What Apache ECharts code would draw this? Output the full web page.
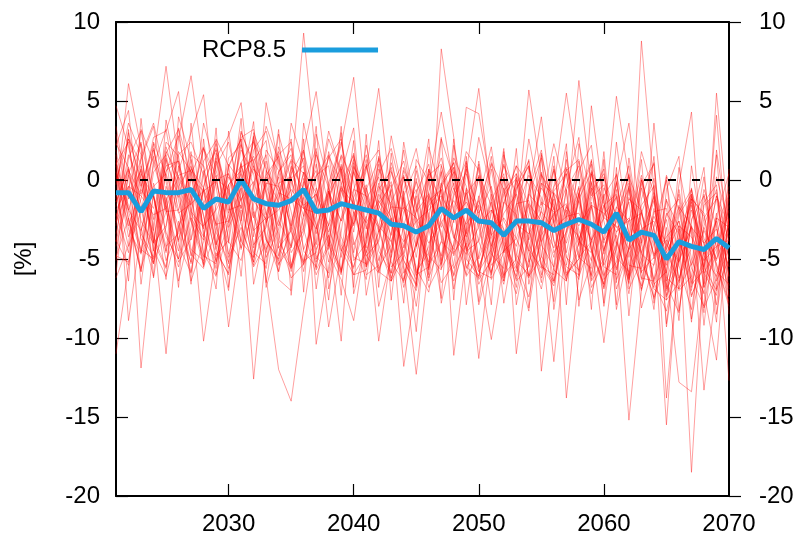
<!DOCTYPE html>
<html>
<head>
<meta charset="utf-8">
<title>RCP8.5</title>
<script src="https://cdn.jsdelivr.net/npm/echarts@6/dist/echarts.min.js"></script>
<style>
    html, body { margin: 0; padding: 0; background: #fff; }
    #mainChart { width: 795px; height: 533px; }
</style>
</head>
<body>
<div id="mainChart"></div>
<script>
var years = [2021, 2022, 2023, 2024, 2025, 2026, 2027, 2028, 2029, 2030,
    2031, 2032, 2033, 2034, 2035, 2036, 2037, 2038, 2039, 2040,
    2041, 2042, 2043, 2044, 2045, 2046, 2047, 2048, 2049, 2050,
    2051, 2052, 2053, 2054, 2055, 2056, 2057, 2058, 2059, 2060,
    2061, 2062, 2063, 2064, 2065, 2066, 2067, 2068, 2069, 2070];

var xTickValues = [2030, 2040, 2050, 2060];
var xLabelValues = [2030, 2040, 2050, 2060, 2070];

// ensemble mean
var rcp85 = [-0.8, -0.8, -2.0, -0.7, -0.8, -0.8, -0.6, -1.8, -1.2, -1.4,
    0.0, -1.2, -1.5, -1.6, -1.3, -0.6, -2.0, -1.9, -1.5, -1.7,
    -1.9, -2.1, -2.8, -2.9, -3.3, -2.9, -1.8, -2.4, -1.9, -2.6,
    -2.7, -3.5, -2.6, -2.6, -2.7, -3.2, -2.8, -2.5, -2.8, -3.3,
    -2.1, -3.8, -3.3, -3.5, -5.0, -3.9, -4.2, -4.4, -3.7, -4.3];

// ensemble members
var r01 = [4.7, 2.1, -1.5, -5.2, -3.0, 1.6, 2.4, 0.3, -4.1, -2.2, 1.9, 0.4, -3.8, -5.0, 0.2, 9.3, 1.1, -3.6, -5.9, -2.4, 0.8, 1.9, -2.6, -6.3, -4.1, -0.7, 1.4, -1.8, -5.5, -6.2, -2.1, 0.9, -0.8, -4.6, -6.9, -3.0, 0.6, 1.3, -3.7, -6.1, -4.4, 0.2, -1.9, -6.5, -8.3, -4.7, -1.1, -2.3, -6.9, -5.0];
var r02 = [-1.2, 6.1, 2.0, -3.9, -5.6, -0.4, 0.9, -2.2, -6.0, -3.1, 2.7, 3.2, -0.6, -4.3, -3.2, 1.8, -1.4, -5.2, -0.3, 1.6, -2.9, -5.8, -6.4, -1.0, 0.9, -2.7, -4.8, -1.9, 1.8, 0.6, -4.5, -6.6, -2.0, 0.3, -1.1, -5.7, -6.4, -0.8, 1.2, -2.4, 5.3, 0.1, -5.3, -6.8, -2.1, -3.4, -7.4, -4.9, 0.2, -2.8];
var r03 = [-4.9, -2.4, -5.8, 1.3, 7.2, 1.0, -4.4, -5.1, -1.6, 0.4, -2.8, -5.5, -4.0, 1.6, 2.4, -1.8, -0.9, -4.7, -6.3, -8.9, -3.5, 0.4, 2.0, -1.3, -5.9, -4.2, -0.5, 1.1, -3.1, -6.6, -5.0, -1.4, 0.9, -0.3, -5.3, -6.5, -3.2, 0.6, 2.2, -4.4, -1.7, -2.6, -6.9, -4.0, 0.3, -1.9, -6.2, -8.0, -3.6, -0.4];
var r04 = [0.6, -3.6, -1.2, 2.7, 3.1, 5.6, -1.7, -10.2, -4.6, -5.9, -0.9, 2.4, 0.7, -3.4, -6.2, -5.3, -1.0, 1.4, 2.6, -2.1, -4.8, -3.9, 0.5, -1.4, -5.6, -7.1, -2.3, -0.2, -4.4, -3.0, 1.1, -0.6, -5.3, -7.4, -3.5, -2.2, 0.7, -1.5, -6.8, -5.2, -0.6, -6.3, -4.1, -1.3, -6.6, -8.4, -2.5, -1.0, -5.4, -7.7];
var r05 = [-3.8, -5.4, 0.4, -1.1, -4.5, 2.6, 6.6, 0.9, -3.3, -5.2, 0.8, 1.3, -3.6, -5.8, -2.7, 0.5, -4.4, -2.8, 1.6, -0.1, -5.4, -3.3, -0.6, -5.6, -7.0, -3.2, 0.9, -2.0, -6.1, -4.8, -0.9, -3.6, -6.8, -1.0, 1.4, -3.9, -5.5, -6.0, -0.7, 0.4, -3.8, -6.5, -1.6, -0.4, -5.8, -12.8, -13.4, -6.3, -2.1, -4.9];
var r06 = [2.3, 0.8, -3.4, -4.9, -1.3, 0.6, 3.0, 5.4, -2.2, -9.3, -3.6, 1.9, 3.1, -0.4, -4.3, -1.1, -5.6, -0.8, 1.5, -3.9, -6.3, -0.9, -2.4, -6.8, -4.0, 0.7, -1.5, -4.6, -3.4, 0.2, -4.0, -6.4, -2.6, -4.5, 0.3, -0.9, -4.9, -5.7, -1.4, -6.9, -1.8, 0.9, -4.6, -7.5, -5.1, -1.7, -2.9, -8.1, -6.2, -1.6];
var r07 = [-2.7, -0.4, -4.6, 2.4, 0.3, -3.8, -0.9, -5.3, 1.4, 2.8, 4.9, -2.3, -4.6, -1.1, 1.2, -3.1, -6.0, -4.2, 0.7, -1.6, 1.3, -4.5, -5.9, -2.0, -0.6, -4.8, -5.7, 0.6, -1.1, -5.5, -3.5, 0.2, -4.7, -6.2, -2.8, -0.4, 0.8, -3.6, -7.2, -4.4, -2.2, -6.1, -0.5, -3.6, -7.3, -3.1, -18.5, -5.2, -1.0, -3.9];
var r08 = [-5.1, 1.4, 3.1, -1.0, -4.2, -3.4, 1.3, -2.3, -5.6, 0.9, 2.6, -3.6, 4.9, 1.0, -3.3, -5.4, -0.5, -2.9, -5.8, 0.8, -0.6, -5.8, -3.4, 0.8, -1.5, -6.2, -3.9, -4.7, 0.4, -1.9, -6.3, -4.6, -0.3, 1.2, -4.8, -6.4, -1.9, -4.1, -0.2, -4.0, 0.4, -3.3, -5.8, -4.9, -1.2, -6.4, -3.0, -13.3, -6.7, -0.9];
var r09 = [0.4, -1.9, 0.7, -4.4, -6.1, -2.9, -1.3, 2.0, -0.4, -5.3, -1.9, -12.6, -4.4, -2.6, 0.4, 1.9, 5.6, -0.7, -4.4, -6.0, -4.6, -1.5, -0.3, -5.1, -6.7, -1.3, -0.6, -5.6, -4.0, 0.3, -1.6, -5.0, -7.2, -3.4, -0.5, -1.8, -6.0, -5.0, 0.6, -1.3, -6.3, -4.4, 0.0, -5.0, -2.5, -7.0, -6.1, -0.9, -4.2, -7.8];
var r10 = [-2.9, 3.0, -0.3, -3.6, -5.5, 0.9, -2.6, -4.9, 1.2, -1.6, -4.3, -2.0, -6.2, -12.0, -14.0, -8.2, -3.0, -0.5, 2.2, 6.5, -1.4, -4.1, -6.4, -2.9, -0.1, -2.2, -5.6, -4.1, 0.9, -3.0, -6.0, -1.4, -2.2, -6.1, -4.9, 0.7, -2.6, -3.6, -6.1, -2.2, -1.1, -6.9, -5.1, -0.8, -4.5, -6.5, -1.9, -4.0, -7.9, -2.5];
var r11 = [1.3, -2.4, -5.6, -2.8, 1.8, 0.2, -4.8, -0.4, 2.0, -1.9, -1.6, -5.2, 0.6, -0.7, -4.6, -3.2, 1.8, -1.6, -4.5, -2.7, 0.6, 5.8, -1.3, -4.7, -6.3, -1.0, -3.3, -6.0, -0.5, -2.1, -0.4, -4.1, -5.8, -0.9, -1.8, -6.4, -2.4, 1.2, -2.8, -6.3, -5.2, -1.1, -2.9, -6.3, -4.1, -0.9, -5.6, -7.1, -11.4, -2.0];
var r12 = [-1.4, 0.8, -3.7, -5.3, -0.4, -3.0, -5.2, 0.4, 1.9, -3.9, -5.1, -1.5, 1.2, -2.6, -4.2, 2.6, -10.4, -5.5, -1.2, 1.3, -3.7, -0.2, -6.4, -4.8, -1.0, -6.0, 8.3, 2.7, -4.2, -5.8, -4.4, -0.7, 0.4, -4.0, -6.2, -2.4, 0.4, -3.9, -4.6, -1.0, 0.3, -6.0, -3.5, -1.1, -7.4, -5.3, -0.6, -3.7, -5.3, -8.0];
var r13 = [-0.9, -4.2, -2.0, 1.9, -1.2, -5.2, -3.7, 0.6, -2.9, 1.4, 2.2, -0.4, -4.9, -3.1, 0.8, -1.8, -2.1, -9.3, -4.6, 0.5, -1.8, -3.0, -5.9, -1.1, -4.9, -0.2, 4.3, -0.4, -5.0, -6.1, -1.9, -3.1, -6.4, -5.5, -0.2, -0.9, -5.4, -1.2, 0.5, -5.4, -3.5, -7.2, -2.1, 0.1, -4.4, -1.6, -6.5, -2.4, -1.2, -6.1];
var r14 = [-3.9, -0.6, 2.3, -1.0, -5.1, -3.2, 1.6, 0.9, -4.4, -6.0, 0.1, 1.5, -0.8, -4.8, -0.3, 1.4, -5.0, -3.5, -10.2, -0.6, 1.6, -2.0, -4.6, 0.2, -3.6, -6.8, -5.2, -1.0, 0.5, 5.8, -1.2, -6.0, -5.0, 0.8, -2.4, -4.9, -0.6, -6.1, -3.9, 0.2, -2.3, -0.5, -6.2, -6.4, -1.3, -3.0, -7.3, -5.4, -1.0, -2.9];
var r15 = [2.9, -2.0, -4.6, -0.2, -3.3, -5.5, -2.0, 1.2, 2.5, -2.7, -0.5, -4.6, -5.3, 0.5, 2.0, -1.5, -5.2, -1.2, 0.9, -4.9, -5.3, -0.6, 0.6, -3.2, -6.1, -3.0, 0.5, -2.7, 4.6, 4.2, -0.6, -4.2, -6.1, -2.2, 0.5, -3.8, -6.3, -4.0, 0.4, -2.6, -5.7, -2.6, 0.3, -3.9, -7.6, -6.5, -1.6, -4.7, -2.6, -12.7];
var r16 = [-4.2, -1.0, 1.3, 3.4, -1.9, -5.0, -2.4, -3.8, 1.7, -0.8, -3.9, -4.9, 1.9, 0.6, -3.2, -5.2, -1.6, 2.6, 0.4, -4.1, -2.3, -10.2, -4.6, 0.6, -1.6, -5.4, -3.9, 1.4, -0.4, -5.8, -6.2, 0.1, -2.6, 5.7, 0.2, -4.6, -3.3, -0.9, -6.4, -5.0, -0.2, -4.5, -6.7, -1.8, -5.4, -2.0, -0.6, -6.8, -4.6, -0.7];
var r17 = [1.0, 2.4, -2.6, -4.0, 0.5, 2.8, -1.1, -5.5, -3.2, 0.2, -1.3, 0.9, -2.6, -5.4, -3.1, -0.3, 2.0, -3.9, -5.7, -2.2, -0.3, -5.1, -2.4, -11.8, -6.5, 0.3, 1.0, -3.4, -6.0, -1.6, 1.0, -2.6, -4.2, -0.8, 4.0, -2.7, -6.1, -4.5, -0.1, -3.8, -2.7, 0.4, -5.0, -7.4, -4.2, -2.6, -6.8, -2.9, -0.6, -6.3];
var r18 = [-2.1, -4.6, 1.5, 3.6, -0.1, -3.9, 0.8, -1.4, -4.8, -3.8, 3.1, 0.8, -2.2, 0.2, -5.4, -2.9, 1.6, -0.5, -5.8, -2.0, -4.3, 0.7, -1.0, -5.4, -12.3, -5.3, -0.3, 0.8, -4.5, -3.9, -5.9, -1.5, 0.9, -3.2, -6.0, -0.5, 5.5, 0.1, -4.4, -6.8, -3.3, -1.4, -6.3, -3.0, 0.0, -5.4, -8.2, -3.0, -5.1, -0.9];
var r19 = [0.9, -3.1, -4.7, 0.5, 1.6, -1.9, -5.3, -0.5, -4.1, 1.0, -0.2, -4.9, 0.3, 1.5, -2.8, -5.3, -3.9, 1.8, -1.6, -6.0, -5.7, -1.3, 0.8, -2.9, -9.6, -0.8, -3.5, -6.1, -3.2, 0.8, -3.6, -6.4, 0.4, -1.6, -5.4, -6.7, -2.4, 6.3, -0.5, -5.5, -6.0, -1.2, -1.9, -6.6, -5.8, -0.6, -5.0, -7.2, -2.4, -6.7];
var r20 = [-0.1, 2.6, 1.0, -4.0, -2.9, 1.8, 0.5, -4.8, -5.3, -0.3, 0.6, -4.1, -3.0, 2.1, -0.8, -5.1, -4.6, -0.2, 2.4, -1.4, -5.5, -3.8, 1.1, -1.7, -5.8, -4.6, 0.6, -11.1, -4.8, -1.0, -5.8, -3.6, 0.0, -4.4, -5.6, -0.8, -2.1, -5.8, 4.7, -1.3, -6.9, -4.3, 0.1, -3.1, -7.0, -5.1, -0.9, -5.9, -7.3, -2.4];
var r21 = [-3.4, 0.3, -1.8, -5.3, 0.6, 1.2, -2.5, -5.4, 0.9, 2.4, -1.2, -5.4, -2.6, 0.5, 1.6, -4.5, -5.5, -1.0, 0.8, -4.6, -0.6, 1.3, -3.9, -6.5, -0.8, 1.0, -3.7, -6.4, -4.0, -11.3, -4.2, -0.5, -5.1, -6.0, -1.8, 0.6, -4.6, -0.8, -6.3, -3.6, -0.2, 3.6, -2.9, -6.9, -7.6, -2.2, -0.9, -4.8, -6.1, -3.1];
var r22 = [1.9, -2.6, -5.8, -1.0, -4.6, 0.2, -1.6, 2.0, 0.3, -4.7, -1.6, 2.7, -0.9, -5.3, -4.2, -0.1, -2.9, -6.2, -2.4, 1.1, -4.8, -5.9, -1.4, 0.3, -4.2, -1.1, -5.4, -0.8, 1.2, -5.4, -10.1, -5.2, -0.6, 0.9, -4.1, -5.5, 1.3, -3.2, -5.1, -0.5, -2.2, -6.6, 8.8, -0.6, -6.2, -6.9, -1.2, -2.1, -6.4, -4.3];
var r23 = [-1.7, 2.6, 0.1, -3.9, 1.4, -4.1, -5.9, -0.5, 2.3, -1.5, 0.4, -3.1, -5.6, -0.7, 1.3, 0.4, -4.8, -5.9, -0.6, -2.9, 1.0, -3.1, -6.2, -4.1, 0.1, -5.7, -1.2, 0.5, -4.4, -6.1, -1.3, 0.4, -11.0, -4.9, -0.2, -2.8, -6.4, -0.9, 1.0, -6.0, -4.1, -0.4, -5.9, 3.6, -3.9, -6.9, -5.3, -0.6, -2.9, -7.4];
var r24 = [-4.8, -5.2, 0.9, -2.5, 2.4, 1.5, -3.8, -0.6, -4.4, 0.8, 2.6, -4.3, -0.3, 1.8, -5.6, -3.4, 0.2, 1.6, -3.6, -5.5, -2.4, 1.0, -4.9, -0.7, -6.0, -5.5, -0.2, -3.6, -4.7, 1.2, -3.3, -6.2, -1.6, 1.3, -12.1, -5.5, -1.6, -4.9, -5.6, -0.9, -4.9, -5.8, 0.0, -3.1, -5.9, -0.3, 4.3, -6.6, -3.8, -6.9];
var r25 = [0.5, -1.6, -4.4, -5.0, 1.3, -1.1, 1.8, -3.4, -5.1, -0.9, 3.0, 1.1, -3.8, -5.1, -1.0, 1.9, -4.1, -0.7, -4.9, -1.1, 0.9, -2.0, -5.2, -6.4, -1.9, 0.4, -5.3, -2.5, 0.7, -5.0, -2.8, -6.1, -0.5, 0.9, -3.6, -11.5, -3.5, -0.5, -6.0, -1.6, -0.9, -6.2, -3.8, -1.0, -6.9, -4.3, -1.4, -6.8, 5.5, -3.1];
var r26 = [-2.6, 1.6, -0.4, 2.3, -3.6, -5.0, 0.1, -0.7, -5.2, -2.7, 2.3, -1.9, -4.4, -0.2, 0.2, -4.4, -2.3, 1.5, -0.1, -5.1, -4.0, 1.5, -1.8, -5.9, -4.3, 0.7, -2.7, -4.4, -0.6, -5.6, -3.0, 1.0, -2.3, -6.1, -4.0, -1.2, -13.8, -6.0, 0.4, -1.5, -5.6, -0.6, -4.7, -5.4, -2.2, -1.2, -6.6, -5.7, 4.1, -5.5];
var r27 = [-11.0, -5.5, -0.4, 2.0, -1.6, -4.5, 0.4, 2.1, -2.9, -5.6, -2.5, 1.2, 2.5, -4.3, -5.6, -0.9, 0.6, -4.4, -0.8, 1.7, -4.6, -1.8, -0.1, -5.1, -6.6, 0.6, -1.6, -4.8, -2.6, 1.0, -4.7, -5.6, 0.2, -2.9, -6.5, -0.7, 0.4, -4.9, -3.9, -10.3, -3.9, -6.3, -0.3, 1.0, -6.4, -3.7, -7.0, -1.6, -0.8, -6.1];
var r28 = [1.6, -8.9, -3.3, 0.9, 3.2, -1.3, -4.7, -5.6, 0.1, -0.6, -4.4, -0.2, 1.6, -3.8, -5.5, -2.2, 1.0, -4.1, -6.0, 0.9, -0.9, -5.6, -4.1, 0.2, -2.3, -6.4, -0.2, 1.1, -3.6, -6.3, -5.1, -0.9, 0.1, -5.2, -3.4, 0.9, -4.9, -6.3, -1.1, -0.3, -4.1, -15.2, -7.0, -2.0, -1.8, -6.2, -4.3, 0.2, -5.8, -6.6];
var r29 = [-1.4, 0.7, -11.9, -4.1, 1.7, 3.2, -2.0, -3.0, 1.4, -4.0, 1.1, 2.5, -2.1, -5.8, 0.9, -0.6, -5.7, -4.0, 1.0, -1.2, -6.0, -5.4, -0.5, 1.2, -2.6, -5.6, -1.5, 0.8, -5.6, -3.7, 0.7, -3.9, -5.6, -1.6, -5.5, -6.0, -0.6, 0.9, -4.4, -6.6, -2.4, -3.8, -7.0, -3.5, -15.5, -4.3, -0.5, -5.5, -7.0, -1.2];
var r30 = [-0.3, 3.6, 1.6, -3.2, -11.0, -2.6, -5.8, -1.5, 0.3, -4.9, -3.0, -5.2, 0.2, -1.4, -5.8, -2.4, 0.3, 0.9, -4.1, -5.6, -1.2, 0.2, -5.5, -4.6, 0.6, -3.1, -6.5, -5.3, -0.9, 0.2, -5.4, -4.5, -3.7, -5.5, 0.4, -1.6, -5.9, -5.0, -0.5, -4.7, -0.1, -5.4, -5.6, -0.3, -13.8, -4.6, -1.2, -5.9, -4.3, -1.9];
var r31 = [0.3, -2.9, -0.6, -1.8, 0.9, 1.2, -2.1, -3.6, 0.0, 0.4, -1.8, 0.7, -0.3, -2.9, 0.1, 0.9, -3.4, -0.8, -2.6, 0.6, -3.1, -0.4, -1.5, -4.3, -2.0, -0.9, -3.0, -0.5, -3.6, -1.3, -4.2, -2.1, -0.9, -3.8, -1.4, -2.0, -4.0, -1.3, -3.9, -1.6, -3.3, -2.4, -4.6, -2.3, -4.1, -5.2, -2.9, -5.5, -2.4, -3.0];
var r32 = [-2.3, 0.6, -0.9, 1.5, -2.0, -1.9, 0.7, -0.5, -2.8, -2.6, 1.1, -2.4, -0.2, -0.4, -2.9, 0.5, -0.8, -3.3, -0.4, -2.8, -0.5, -3.3, -1.7, -1.8, -4.2, -1.6, -0.6, -3.7, -0.8, -3.9, -1.4, -4.6, -1.5, -1.3, -3.9, -2.1, -1.5, -3.8, -1.7, -4.5, -1.0, -4.9, -2.0, -4.7, -3.6, -2.6, -5.4, -3.2, -5.0, -2.9];
var r33 = [1.1, -1.9, -3.2, -0.4, 0.4, -2.1, -1.5, -0.7, -0.1, -3.0, -1.2, -0.1, -2.7, -0.8, -1.2, -1.8, -3.1, -0.7, -2.6, -0.6, -1.0, -2.9, -3.9, -1.7, -2.4, -4.0, -2.7, -1.3, -2.8, -1.6, -3.5, -2.4, -3.7, -1.5, -2.6, -4.3, -1.7, -2.9, -1.6, -2.1, -3.0, -2.6, -2.1, -4.8, -3.8, -5.1, -3.0, -4.0, -3.1, -5.5];
var r34 = [-1.9, -0.4, -1.0, -2.2, -1.8, 0.3, 0.6, -2.9, -1.9, -0.3, 0.9, -1.3, -2.5, -1.9, -0.6, -1.6, -0.9, -2.9, -0.5, -1.5, -2.7, -1.3, -2.6, -3.9, -2.6, -1.9, -1.0, -2.4, -1.4, -2.8, -1.9, -3.5, -2.8, -3.4, -2.0, -3.1, -2.3, -2.1, -3.8, -2.4, -2.9, -4.4, -3.1, -2.6, -4.6, -2.9, -3.6, -5.1, -4.2, -3.8];
var r35 = [3.4, -1.2, 0.6, -4.5, -2.0, 3.3, 0.2, -3.1, 2.6, 0.9, -3.9, -0.5, 3.4, 1.2, -2.0, -5.8, -1.5, 3.1, 0.5, -3.3, 2.2, -1.6, -3.5, 1.9, -2.9, -5.2, 2.6, 0.1, -3.4, -1.2, 2.1, -3.4, -6.3, -0.6, 1.9, -2.7, -0.4, 2.7, -4.6, -6.6, 2.4, -3.6, 1.8, -0.9, -6.8, 0.8, -3.4, -8.4, 1.9, -3.6];
var r36 = [-6.2, -4.1, 3.2, 1.1, -1.8, -6.4, -3.0, 3.6, 0.6, -2.1, 3.9, -6.6, -2.8, 2.9, 0.0, -2.3, 3.4, -6.9, -3.3, 2.5, -7.3, -3.1, 2.8, -1.1, -6.8, 2.1, -0.9, -6.9, -3.0, 2.7, -0.7, -7.8, -3.2, 2.6, -1.6, 2.3, -0.8, -7.6, -5.2, 1.8, -6.5, 1.4, -3.9, -8.2, -0.6, 1.5, -8.8, -4.5, 1.6, -7.4];
var r37 = [2.2, 4.4, -3.0, -6.1, 3.8, -0.2, -6.4, -3.9, 3.3, -6.8, -0.4, 3.7, -6.8, -4.0, 3.6, 1.0, -6.9, -1.6, 3.0, -7.2, -3.9, 2.5, -7.6, -0.6, 2.0, -2.4, -7.5, 2.2, -1.7, -7.9, -4.8, 1.6, -1.3, -8.1, -3.3, 1.5, -7.9, 2.3, -1.0, 0.7, -8.2, -4.4, 1.3, -7.8, -3.0, -8.9, 0.9, -4.1, -9.0, 0.7];
var r38 = [-5.9, 0.4, 2.4, -6.2, -1.1, -6.8, 3.6, -3.5, -6.9, 3.1, -2.6, 2.8, -6.5, -1.3, 2.6, -7.1, 2.9, -0.2, -7.3, 1.5, -1.1, -8.0, -5.0, 2.4, -2.0, 2.6, -7.8, -4.0, 1.1, -2.4, -7.9, 1.8, -5.4, -8.3, 1.6, -1.9, 2.3, -8.0, -1.6, -7.8, 0.8, -8.6, -1.2, 1.1, -9.3, -3.6, -1.0, -9.2, -2.3, 0.4];
var r39 = [0.2, -6.4, 3.9, -3.2, 2.1, -0.6, -6.6, 2.6, -3.8, -7.0, 1.0, -3.2, -2.4, 3.2, -7.3, 0.1, -2.8, -7.6, 0.4, 3.3, -5.5, 1.4, -1.9, -7.8, 1.3, -0.1, -5.1, 2.6, -7.9, -2.2, 1.5, -4.6, 2.0, -6.6, -2.9, -7.7, 1.8, -4.2, 1.3, -8.0, -2.3, 0.3, -8.1, -5.3, 0.2, -8.3, -2.6, 0.8, -8.5, -3.5];
var r40 = [-3.9, 3.2, -6.6, -0.8, -6.3, 4.0, 1.3, -4.6, -6.1, -0.3, -6.1, 3.0, 0.8, -6.3, -7.0, 3.6, -0.4, -4.2, 3.4, -6.8, 2.9, -6.8, 1.7, -3.7, -8.0, -2.4, 2.7, -7.6, 1.5, -7.7, -2.9, 2.0, -7.9, -3.6, 1.7, -8.2, -3.2, -0.4, -8.2, 1.3, -7.9, -0.2, -4.0, 1.5, -9.1, -2.9, -9.0, -1.4, -0.3, -8.5];

var runs = [r01, r02, r03, r04, r05, r06, r07, r08, r09, r10,
    r11, r12, r13, r14, r15, r16, r17, r18, r19, r20,
    r21, r22, r23, r24, r25, r26, r27, r28, r29, r30,
    r31, r32, r33, r34, r35, r36, r37, r38, r39, r40];

var FONT = 'Liberation Sans, Arial, Helvetica, sans-serif';

function pairs(values) {
    var out = [];
    for (var i = 0; i < years.length; i++) {
        out.push([years[i], values[i]]);
    }
    return out;
}

function buildSeries() {
    var series = [];
    for (var i = 0; i < runs.length; i++) {
        series.push({
            name: 'run' + (i + 1), type: 'line', data: pairs(runs[i]),
            symbol: 'none', silent: true, z: 1,
            lineStyle: { color: 'rgba(255,0,0,0.5)', width: 0.75 }
        });
    }
    // zero reference line
    series.push({
        name: 'zero', type: 'line', data: [], z: 2, silent: true,
        markLine: {
            silent: true, symbol: ['none', 'none'], label: { show: false },
            lineStyle: { color: '#000', type: [8, 16], width: 2 },
            data: [{ yAxis: 0 }]
        }
    });
    series.push({
        name: 'RCP8.5', type: 'line', data: pairs(rcp85), z: 3,
        symbol: 'none',
        lineStyle: { color: '#1a9ddd', width: 5 },
        itemStyle: { color: '#1a9ddd' }
    });
    return series;
}

var myChart = echarts.init(document.getElementById('mainChart'));

var axisLine = { show: true, onZero: false, lineStyle: { color: '#000', width: 2 } };
var tickStyle = { color: '#000', width: 1.2 };

var option = {
    animation: false,
    backgroundColor: '#fff',
    grid: { left: 116, right: 66, top: 22, bottom: 37, outerBoundsMode: 'none' },
    legend: {
        data: [{ name: 'RCP8.5', icon: 'rect' }],
        left: 197, top: 33,
        align: 'right',
        itemWidth: 76, itemHeight: 5,
        textStyle: { fontSize: 24, fontFamily: FONT, color: '#000', padding: [0, 11, 0, 0] },
        selectedMode: false
    },
    xAxis: [{
        type: 'value', position: 'bottom', min: 2021, max: 2070,
        axisLine: axisLine,
        axisTick: { inside: true, length: 12, customValues: xTickValues, lineStyle: tickStyle },
        axisLabel: {
            customValues: xLabelValues, fontSize: 24, fontFamily: FONT, color: '#000', margin: 16,
            formatter: function (v) { return String(v); }
        },
        splitLine: { show: false }
    }, {
        type: 'value', position: 'top', min: 2021, max: 2070,
        axisLine: axisLine,
        axisTick: { inside: true, length: 12, customValues: xTickValues, lineStyle: tickStyle },
        axisLabel: { show: false },
        splitLine: { show: false }
    }],
    yAxis: [{
        type: 'value', position: 'left', min: -20, max: 10, interval: 5,
        name: '[%]', nameLocation: 'middle', nameGap: 80,
        nameTextStyle: { fontSize: 24, fontFamily: FONT, color: '#000' },
        axisLine: axisLine,
        axisTick: { inside: true, length: 12, lineStyle: tickStyle },
        axisLabel: { fontSize: 24, fontFamily: FONT, color: '#000', margin: 16 },
        splitLine: { show: false }
    }, {
        type: 'value', position: 'right', min: -20, max: 10, interval: 5,
        axisLine: axisLine,
        axisTick: { inside: false, length: 12, lineStyle: tickStyle },
        axisLabel: { fontSize: 24, fontFamily: FONT, color: '#000', margin: 30, align: 'left' },
        splitLine: { show: false }
    }],
    series: buildSeries()
};

myChart.setOption(option);
</script>
</body>
</html>
